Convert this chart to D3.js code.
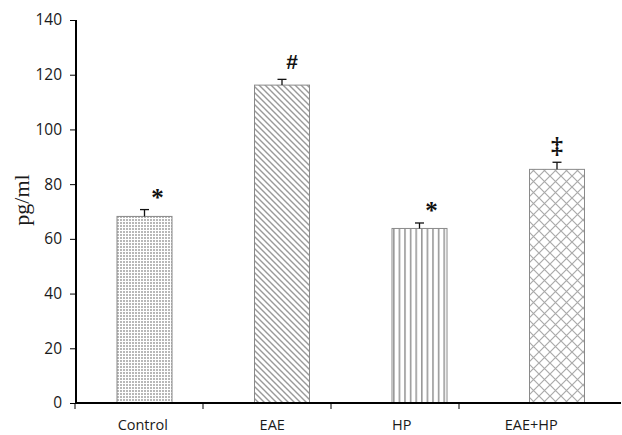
<!DOCTYPE html>
<html>
<head>
<meta charset="utf-8">
<script src="https://cdn.jsdelivr.net/npm/d3@7"></script>
<style>
  body { margin: 0; background: #fff; }
  svg { display: block; }
</style>
</head>
<body>
<div id="chart"></div>
<script>
// bar data
const groups = ['Control', 'EAE', 'HP', 'EAE+HP'];
const means = [68.2, 116.2, 63.8, 85.4];
const errors = [2.5, 2.1, 2.0, 2.6];
const marks = ['*', '#', '*', '\u2021'];
const yTicks = [0, 20, 40, 60, 80, 100, 120, 140];

const W = 622, H = 435;
const svg = d3.select('#chart').append('svg')
    .attr('width', W).attr('height', H);

// fill patterns
const defs = svg.append('defs');

const pDots = defs.append('pattern').attr('id', 'pDots')
    .attr('patternUnits', 'userSpaceOnUse').attr('width', 3).attr('height', 3);
pDots.append('rect').attr('width', 3).attr('height', 3).attr('fill', '#fff');
pDots.append('rect').attr('width', 2).attr('height', 2).attr('fill', '#b8b8b8');

const pDiag = defs.append('pattern').attr('id', 'pDiag')
    .attr('patternUnits', 'userSpaceOnUse').attr('width', 6).attr('height', 6);
pDiag.append('rect').attr('width', 6).attr('height', 6).attr('fill', '#fff');
pDiag.append('path').attr('d', 'M-1,-1 L7,7 M-1,5 L1,7 M5,-1 L7,1')
    .attr('stroke', '#999').attr('stroke-width', 1.4);

const pVert = defs.append('pattern').attr('id', 'pVert')
    .attr('patternUnits', 'userSpaceOnUse').attr('width', 5.6).attr('height', 4)
    .attr('x', 1);
pVert.append('rect').attr('width', 5.6).attr('height', 4).attr('fill', '#fff');
pVert.append('rect').attr('x', 0).attr('width', 1.6).attr('height', 4).attr('fill', '#999');

const pCross = defs.append('pattern').attr('id', 'pCross')
    .attr('patternUnits', 'userSpaceOnUse').attr('width', 11).attr('height', 11);
pCross.append('rect').attr('width', 11).attr('height', 11).attr('fill', '#fff');
pCross.append('path').attr('d', 'M0,0 L11,11 M11,0 L0,11')
    .attr('stroke', '#aaa').attr('stroke-width', 1.2);

const fills = ['url(#pDots)', 'url(#pDiag)', 'url(#pVert)', 'url(#pCross)'];

// scales
const y = d3.scaleLinear().domain([0, 140]).range([403, 20]);
const xTick = d3.scaleBand().domain(groups).range([75, 587]);
const xLabel = d3.scaleBand().domain(groups).range([78, 596]);
const xBar = d3.scaleBand().domain(groups).range([117, 584.5])
    .paddingInner(0.6).paddingOuter(0);

// bars
svg.selectAll('.bar')
    .data(groups)
    .enter()
    .append('rect')
    .attr('class', 'bar')
    .attr('x', d => xBar(d))
    .attr('y', (d, i) => y(means[i]))
    .attr('width', xBar.bandwidth())
    .attr('height', (d, i) => y(0) - y(means[i]))
    .attr('fill', (d, i) => fills[i])
    .attr('stroke', '#8a8a8a')
    .attr('stroke-width', 1);

// error bars (upper only)
const err = svg.append('g').attr('stroke', '#111').attr('stroke-width', 1.3);
groups.forEach((g, i) => {
    const cx = xBar(g) + xBar.bandwidth() / 2;
    err.append('line')
        .attr('x1', cx).attr('x2', cx)
        .attr('y1', y(means[i])).attr('y2', y(means[i] + errors[i]));
    err.append('line')
        .attr('x1', cx - 4.5).attr('x2', cx + 4.5)
        .attr('y1', y(means[i] + errors[i])).attr('y2', y(means[i] + errors[i]));
});

// significance marks
const markDx = [13, 10, 12, 0];
const markDy = [4, 10, 4, 9];
const markFont = ['"Liberation Serif", serif', '"Liberation Sans", sans-serif',
    '"Liberation Serif", serif', '"Liberation Serif", serif'];
const markSize = [25, 21, 25, 24];
svg.selectAll('.mark')
    .data(groups)
    .enter()
    .append('text')
    .attr('class', 'mark')
    .attr('x', (d, i) => xBar(d) + xBar.bandwidth() / 2 + markDx[i])
    .attr('y', (d, i) => y(means[i] + errors[i]) - markDy[i])
    .attr('text-anchor', 'middle')
    .style('font-family', (d, i) => markFont[i])
    .style('font-weight', 'bold')
    .style('font-size', (d, i) => markSize[i] + 'px')
    .style('fill', '#111')
    .text((d, i) => marks[i]);

// y axis
const yAxis = svg.append('g')
    .attr('transform', 'translate(76,0)')
    .call(d3.axisLeft(y).tickValues(yTicks).tickSize(6).tickSizeOuter(0).tickPadding(8));
yAxis.select('.domain').attr('stroke', '#000').attr('stroke-width', 2)
    .attr('d', `M0,${y(140)}V${y(0) + 1}`);
yAxis.selectAll('.tick line').attr('stroke', '#000').attr('stroke-width', 1);
yAxis.selectAll('.tick text')
    .style('font-family', '"Open Sans", "Liberation Sans", sans-serif')
    .style('font-size', '15.5px')
    .style('fill', '#1a1a1a');

// x axis
const xg = svg.append('g');
xg.append('line')
    .attr('x1', 75).attr('x2', 621)
    .attr('y1', y(0)).attr('y2', y(0))
    .attr('stroke', '#000').attr('stroke-width', 2);
xg.selectAll('.xt')
    .data(groups)
    .enter()
    .append('line')
    .attr('class', 'xt')
    .attr('x1', d => xTick(d)).attr('x2', d => xTick(d))
    .attr('y1', y(0)).attr('y2', y(0) + 6)
    .attr('stroke', '#000').attr('stroke-width', 1);
xg.selectAll('.xl')
    .data(groups)
    .enter()
    .append('text')
    .attr('class', 'xl')
    .attr('x', d => xLabel(d) + xLabel.bandwidth() / 2)
    .attr('y', 430)
    .attr('text-anchor', 'middle')
    .style('font-family', '"Open Sans", "Liberation Sans", sans-serif')
    .style('font-size', '14.5px')
    .style('fill', '#1a1a1a')
    .text(d => d);

// y label
svg.append('text')
    .attr('transform', 'translate(29,200) rotate(-90)')
    .attr('text-anchor', 'middle')
    .style('font-family', '"Liberation Serif", serif')
    .style('font-size', '22px')
    .style('fill', '#1a1a1a')
    .text('pg/ml');
</script>
</body>
</html>
